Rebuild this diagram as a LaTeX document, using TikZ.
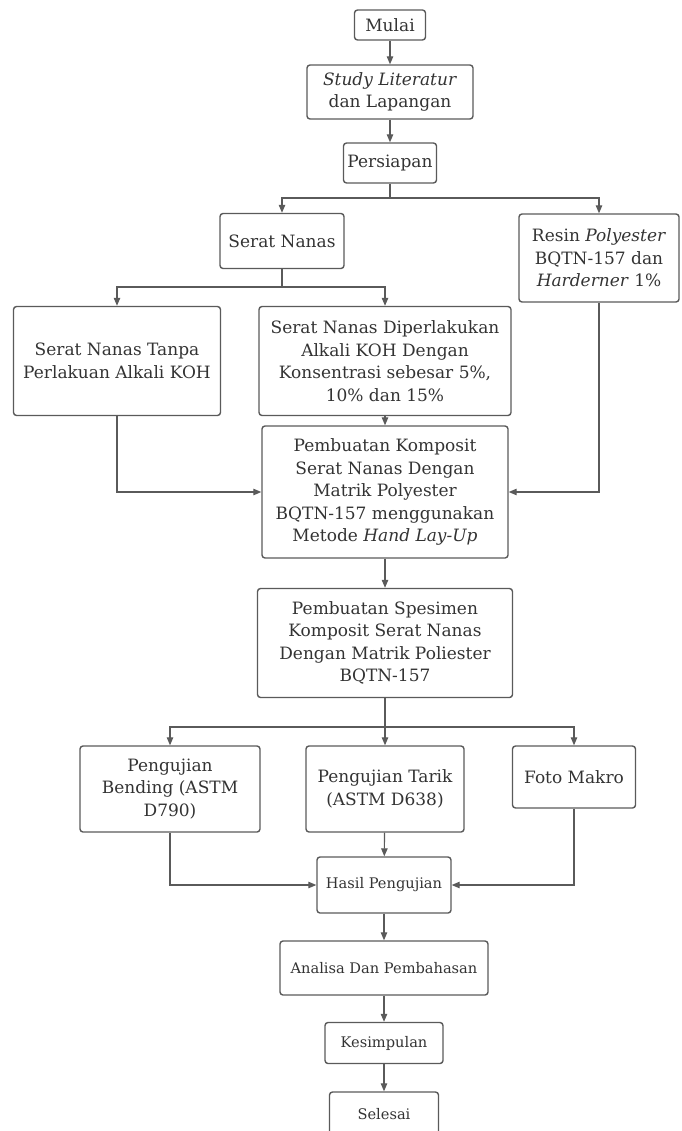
\documentclass[tikz,border=0pt]{standalone}
\usepackage{fontspec}
\setmainfont{DejaVu Serif}
\usetikzlibrary{positioning,arrows.meta}
\definecolor{linegray}{HTML}{5A5A5A}
\definecolor{textgray}{HTML}{333333}

\begin{document}
\begin{tikzpicture}[
        x=1pt, y=-1pt,
        stepbox/.style={draw=linegray, line width=1.4pt, rounded corners=3pt, align=center, inner sep=2pt, text=textgray, font=\fontsize{17}{22.5}\selectfont},
        smallbox/.style={stepbox, font=\fontsize{14.6}{18}\selectfont},
        arrow/.style={-{Triangle[length=8pt,width=6.5pt]}, draw=linegray, line width=1.1pt}
    ]
        \useasboundingbox (0,0) rectangle (681,1131);

        \node[stepbox, minimum width=71pt, minimum height=30pt] (mulai) at (390,25) {Mulai};
        \node[stepbox, minimum width=166pt, minimum height=54pt] (study) at (390,92) {\textit{Study Literatur}\\dan Lapangan};
        \node[stepbox, minimum width=93pt, minimum height=40pt] (persiapan) at (390,163) {Persiapan};
        \node[stepbox, minimum width=124pt, minimum height=55pt] (serat) at (282,241) {Serat Nanas};
        \node[stepbox, minimum width=160pt, minimum height=88pt] (resin) at (599,258) {Resin \textit{Polyester}\\BQTN-157 dan\\\textit{Harderner} 1\%};
        \node[stepbox, minimum width=207pt, minimum height=109pt] (tanpa) at (117,361) {Serat Nanas Tanpa\\Perlakuan Alkali KOH};
        \node[stepbox, minimum width=252pt, minimum height=109pt] (perlakuan) at (385,361) {Serat Nanas Diperlakukan\\Alkali KOH Dengan\\Konsentrasi sebesar 5\%,\\10\% dan 15\%};
        \node[stepbox, minimum width=246pt, minimum height=132pt] (komposit) at (385,492) {Pembuatan Komposit\\Serat Nanas Dengan\\Matrik Polyester\\BQTN-157 menggunakan\\Metode \textit{Hand Lay-Up}};
        \node[stepbox, minimum width=255pt, minimum height=109pt] (spesimen) at (385,643) {Pembuatan Spesimen\\Komposit Serat Nanas\\Dengan Matrik Poliester\\BQTN-157};
        \node[stepbox, minimum width=180pt, minimum height=86pt] (bending) at (170,789) {Pengujian\\Bending (ASTM\\D790)};
        \node[stepbox, minimum width=158pt, minimum height=86pt] (tarik) at (385,789) {Pengujian Tarik\\(ASTM D638)};
        \node[stepbox, minimum width=123pt, minimum height=62pt] (foto) at (574,777) {Foto Makro};
        \node[smallbox, minimum width=134pt, minimum height=56pt] (hasil) at (384,885) {Hasil Pengujian};
        \node[smallbox, minimum width=208pt, minimum height=54pt] (analisa) at (384,968) {Analisa Dan Pembahasan};
        \node[smallbox, minimum width=118pt, minimum height=41pt] (kesimpulan) at (384,1043) {Kesimpulan};
        \node[smallbox, minimum width=109pt, minimum height=44pt] (selesai) at (384,1114) {Selesai};

        \coordinate (j1) at (390,198);
        \coordinate (j2) at (282,287);
        \coordinate (j3) at (385,727);

        \draw[arrow] (mulai) -- (study);
        \draw[arrow] (study) -- (persiapan);
        \draw[arrow] (persiapan) -- (j1) -| (serat);
        \draw[arrow] (j1) -| (resin);
        \draw[arrow] (serat) -- (j2) -| (tanpa);
        \draw[arrow] (j2) -| (perlakuan);
        \draw[arrow] (perlakuan) -- (komposit);
        \draw[arrow] (tanpa) |- (komposit);
        \draw[arrow] (resin) |- (komposit);
        \draw[arrow] (komposit) -- (spesimen);
        \draw[arrow] (spesimen) -- (j3) -| (bending);
        \draw[arrow] (j3) -| (foto);
        \draw[arrow] (j3) -- (tarik);
        \draw[arrow] (bending) |- (hasil);
        \draw[arrow] (foto) |- (hasil);
        \draw[arrow] (tarik) -- (hasil);
        \draw[arrow] (hasil) -- (analisa);
        \draw[arrow] (analisa) -- (kesimpulan);
        \draw[arrow] (kesimpulan) -- (selesai);
    \end{tikzpicture}
\end{document}
